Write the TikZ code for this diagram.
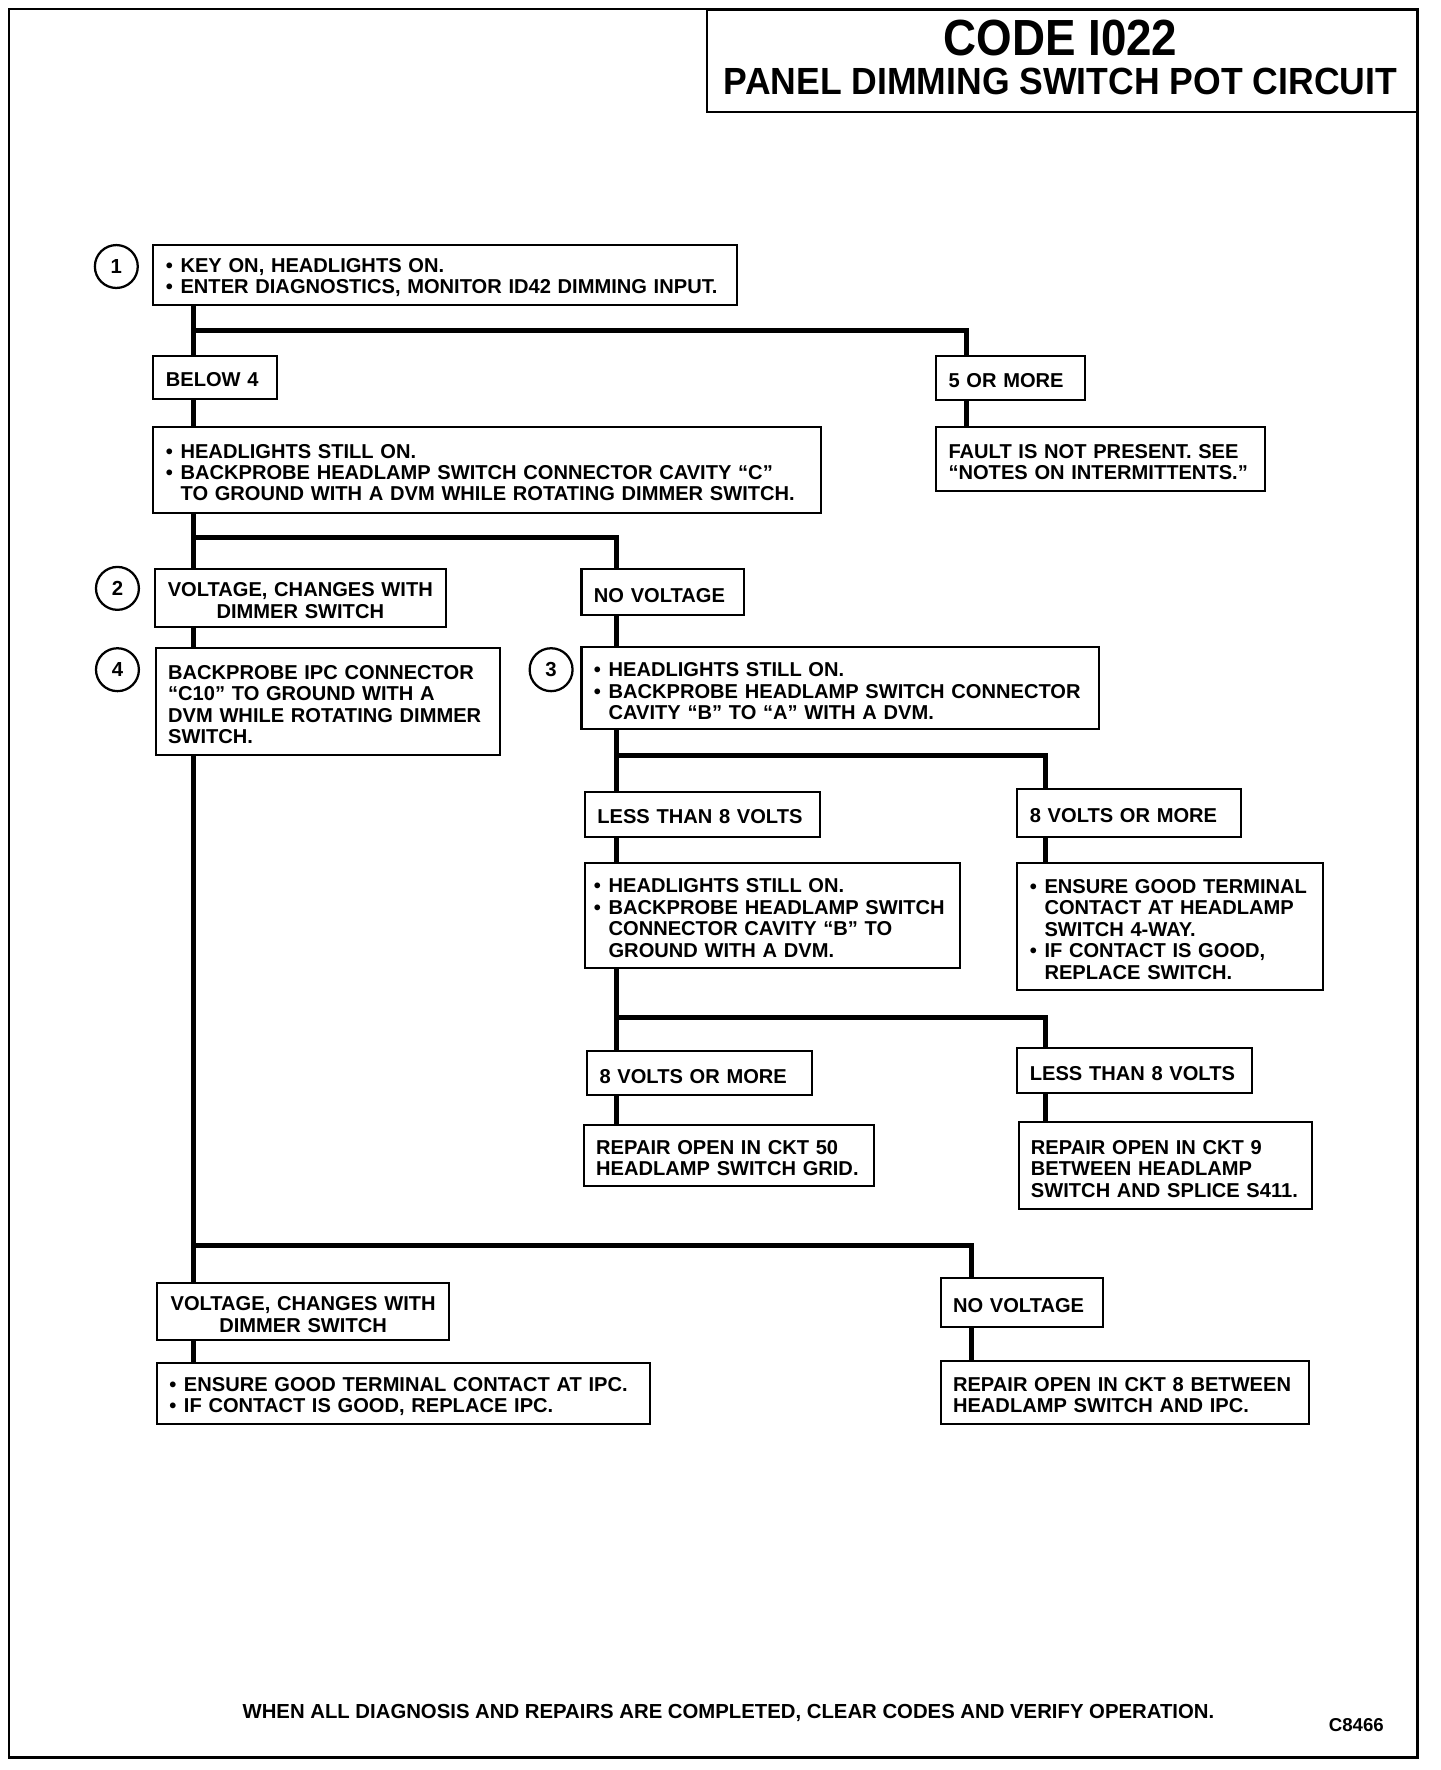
\documentclass[tikz,border=0pt]{standalone}
\usepackage{fontspec}
\setmainfont{Liberation Sans}
\usepackage{tikz}

\newcommand{\bul}{\makebox[13pt][l]{•}}
\newcommand{\ind}{\hspace*{13pt}}

\begin{document}
\begin{tikzpicture}[x=1pt,y=-1pt,
                    box/.style={draw, line width=1.8pt, anchor=north west, align=left,
                                inner xsep=11pt, inner ysep=0pt,
                                font=\bfseries\fontsize{17.8}{19}\selectfont,
                                execute at begin node={\rule{0pt}{17.5pt}}},
                    mid/.style={box, align=center, inner xsep=4pt},
                    wire/.style={line width=4.5pt},
                    num/.style={draw, circle, line width=2pt, minimum size=38pt, inner sep=0pt,
                                font=\bfseries\fontsize{18}{18}\selectfont}]
    \useasboundingbox (0,0) rectangle (1275.1,1567.3);
    \draw[line width=2.5pt] (8,8) rectangle (1255,1556);

    \node[draw, line width=1.8pt, anchor=north west, minimum width=630pt, minimum height=90pt] (title) at (625,8) {};
    \node[anchor=base, font=\bfseries\fontsize{45}{45}\selectfont] (code) at (939,49) {\scalebox{0.9}[1]{CODE I022}};
    \node[anchor=base, font=\bfseries\fontsize{33.5}{34}\selectfont] (name) at (939,84) {\scalebox{0.94}[1]{PANEL DIMMING SWITCH POT CIRCUIT}};

    \node[num] (n1) at (103,236) {1};
    \node[num] (n2) at (104,521) {2};
    \node[num] (n4) at (104,593) {4};
    \node[num] (n3) at (488,593) {3};

    \node[box, text width=495pt, minimum height=53pt] (s1) at (135,216)
        {\bul KEY ON, HEADLIGHTS ON.\\
         \bul ENTER DIAGNOSTICS, MONITOR ID42 DIMMING INPUT.};
    \node[box, text width=87pt, minimum height=38pt] (below) at (135,314) {BELOW 4};
    \node[box, text width=110pt, minimum height=39pt] (more) at (828,314) {5 OR MORE};
    \node[box, text width=569pt, minimum height=76pt] (s1b) at (135,377)
        {\bul HEADLIGHTS STILL ON.\\
         \bul BACKPROBE HEADLAMP SWITCH CONNECTOR CAVITY “C”\\
         \ind TO GROUND WITH A DVM WHILE ROTATING DIMMER SWITCH.};
    \node[box, text width=269pt, minimum height=57pt] (fault) at (828,377)
        {FAULT IS NOT PRESENT. SEE\\
         “NOTES ON INTERMITTENTS.”};

    \node[mid, text width=250pt, minimum height=51pt] (volt) at (136,503)
        {VOLTAGE, CHANGES WITH\\
         DIMMER SWITCH};
    \node[box, text width=122pt, minimum height=41pt] (novolt) at (514,503) {NO VOLTAGE};
    \node[box, text width=283pt, minimum height=95pt] (s4) at (137,573)
        {BACKPROBE IPC CONNECTOR\\
         “C10” TO GROUND WITH A\\
         DVM WHILE ROTATING DIMMER\\
         SWITCH.};
    \node[box, text width=436pt, minimum height=73pt] (s3) at (514,572)
        {\bul HEADLIGHTS STILL ON.\\
         \bul BACKPROBE HEADLAMP SWITCH CONNECTOR\\
         \ind CAVITY “B” TO “A” WITH A DVM.};

    \node[box, text width=186pt, minimum height=40pt] (less) at (517,700) {LESS THAN 8 VOLTS};
    \node[box, text width=176pt, minimum height=42pt] (eight) at (900,698) {8 VOLTS OR MORE};
    \node[box, inner xsep=8pt, text width=316pt, minimum height=93pt] (s3b) at (517,763)
        {\bul HEADLIGHTS STILL ON.\\
         \bul BACKPROBE HEADLAMP SWITCH\\
         \ind CONNECTOR CAVITY “B” TO\\
         \ind GROUND WITH A DVM.};
    \node[box, text width=249pt, minimum height=113pt] (ensure) at (900,763)
        {\bul ENSURE GOOD TERMINAL\\
         \ind CONTACT AT HEADLAMP\\
         \ind SWITCH 4-WAY.\\
         \bul IF CONTACT IS GOOD,\\
         \ind REPLACE SWITCH.};

    \node[box, text width=177pt, minimum height=39pt] (eightb) at (519,930) {8 VOLTS OR MORE};
    \node[box, text width=186pt, minimum height=40pt] (lessb) at (900,927) {LESS THAN 8 VOLTS};
    \node[box, text width=235pt, minimum height=54pt] (ckt50) at (516,995)
        {REPAIR OPEN IN CKT 50\\
         HEADLAMP SWITCH GRID.};
    \node[box, text width=238pt, minimum height=77pt] (ckt9) at (901,993)
        {REPAIR OPEN IN CKT 9\\
         BETWEEN HEADLAMP\\
         SWITCH AND SPLICE S411.};

    \node[mid, text width=251pt, minimum height=51pt] (volt2) at (138,1135)
        {VOLTAGE, CHANGES WITH\\
         DIMMER SWITCH};
    \node[box, text width=122pt, minimum height=43pt] (novolt2) at (832,1131) {NO VOLTAGE};
    \node[box, text width=415pt, minimum height=54pt] (ipc) at (138,1206)
        {\bul ENSURE GOOD TERMINAL CONTACT AT IPC.\\
         \bul IF CONTACT IS GOOD, REPLACE IPC.};
    \node[box, text width=304pt, minimum height=56pt] (ckt8) at (832,1204)
        {REPAIR OPEN IN CKT 8 BETWEEN\\
         HEADLAMP SWITCH AND IPC.};

    \node[anchor=base, font=\bfseries\fontsize{18}{18}\selectfont] (foot) at (645,1522)
        {WHEN ALL DIAGNOSIS AND REPAIRS ARE COMPLETED, CLEAR CODES AND VERIFY OPERATION.};
    \node[anchor=base, font=\bfseries\fontsize{16.5}{16.5}\selectfont] (fig) at (1201,1533) {C8466};

    \coordinate (j1) at (171,293);
    \coordinate (k1) at (856,293);
    \coordinate (j2) at (171,476);
    \coordinate (k2) at (546,476);
    \coordinate (j3) at (546,669);
    \coordinate (k3) at (926,669);
    \coordinate (j4) at (546,901);
    \coordinate (k4) at (926,901);
    \coordinate (j5) at (171,1103);
    \coordinate (k5) at (860,1103);

    \draw[wire] (j1 |- s1.south) -- (j1 |- below.north);
    \draw[wire] (j1) -| (k1 |- more.north);
    \draw[wire] (k1 |- more.south) -- (k1 |- fault.north);
    \draw[wire] (j1 |- below.south) -- (j1 |- s1b.north);
    \draw[wire] (j2 |- s1b.south) -- (j2 |- volt.north);
    \draw[wire] (j2) -| (k2 |- novolt.north);
    \draw[wire] (j2 |- volt.south) -- (j2 |- s4.north);
    \draw[wire] (k2 |- novolt.south) -- (k2 |- s3.north);
    \draw[wire] (j3 |- s3.south) -- (j3 |- less.north);
    \draw[wire] (j3) -| (k3 |- eight.north);
    \draw[wire] (j3 |- less.south) -- (j3 |- s3b.north);
    \draw[wire] (k3 |- eight.south) -- (k3 |- ensure.north);
    \draw[wire] (j4 |- s3b.south) -- (j4 |- eightb.north);
    \draw[wire] (j4) -| (k4 |- lessb.north);
    \draw[wire] (j4 |- eightb.south) -- (j4 |- ckt50.north);
    \draw[wire] (k4 |- lessb.south) -- (k4 |- ckt9.north);
    \draw[wire] (j5 |- s4.south) -- (j5 |- volt2.north);
    \draw[wire] (j5) -| (k5 |- novolt2.north);
    \draw[wire] (j5 |- volt2.south) -- (j5 |- ipc.north);
    \draw[wire] (k5 |- novolt2.south) -- (k5 |- ckt8.north);
\end{tikzpicture}
\end{document}
